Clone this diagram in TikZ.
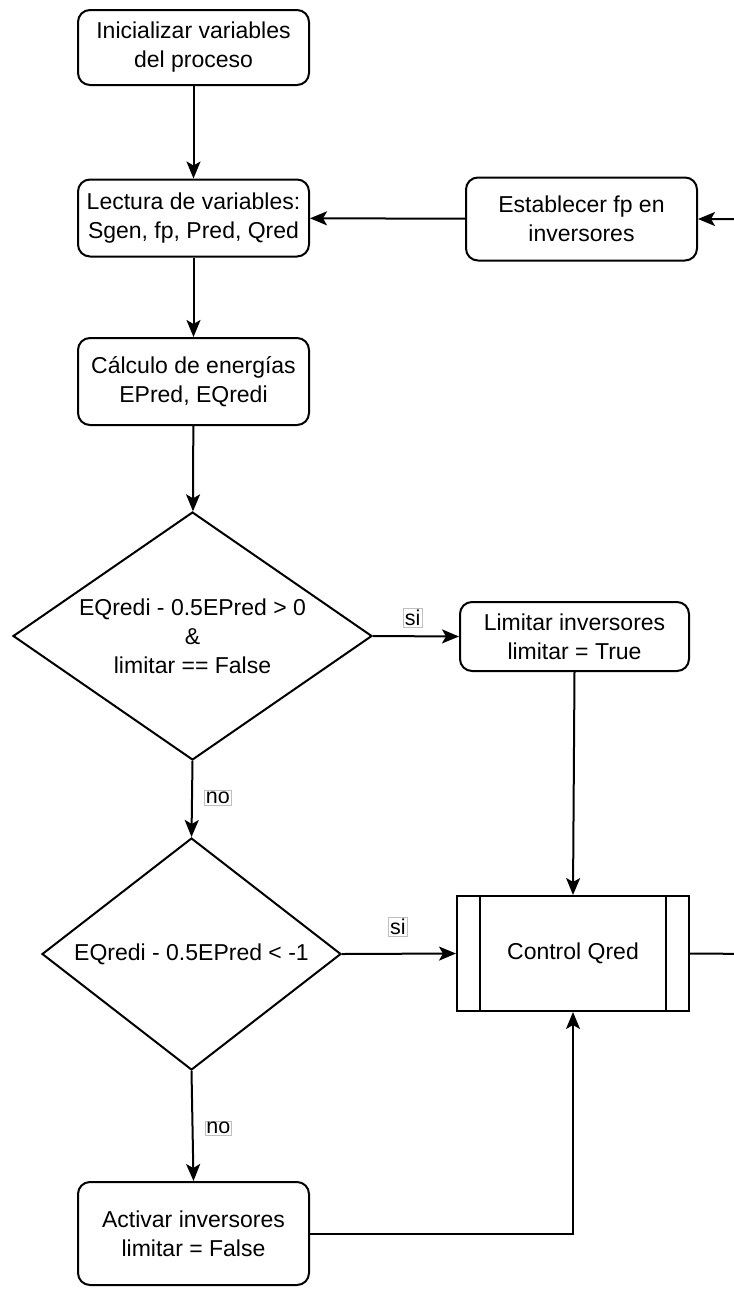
\documentclass[tikz,border=0pt]{standalone}
\usepackage{fontspec}
\setmainfont{Liberation Sans}
\usetikzlibrary{shapes.geometric,arrows.meta}
\begin{document}
\begin{tikzpicture}[x=1pt,y=-1pt,
  every node/.style={font=\fontsize{23}{29}\selectfont, align=center, inner sep=0pt},
  proc/.style={draw, line width=2pt, rounded corners=12pt, fill=white},
  lbl/.style={draw=black!25, line width=0.6pt, fill=white, inner sep=1.5pt, font=\fontsize{21.5}{25}\selectfont},
  conn/.style={line width=2pt, -{Stealth[length=17pt,width=14pt,inset=4pt]}},
  plain/.style={line width=2pt}]
\clip (0,0) rectangle (734,1294);
\fill[white] (0,0) rectangle (734,1294);

\node[proc, minimum width=231pt, minimum height=75pt] (n1) at (193.5,47.5) {Inicializar variables\\del proceso};
\node[proc, minimum width=231pt, minimum height=77pt] (n2) at (193.5,218) {Lectura de variables:\\Sgen, fp, Pred, Qred};
\node[proc, minimum width=231pt, minimum height=83pt] (n3) at (581.5,219) {Establecer fp en\\inversores};
\node[proc, minimum width=231pt, minimum height=87pt] (n4) at (193.5,381.5) {Cálculo de energías\\EPred, EQredi};
\node[draw, line width=2pt, fill=white, shape=diamond, minimum width=359pt, minimum height=248pt, inner sep=0pt] (d1) at (192.5,636) {};
\node at (d1.center) {EQredi - 0.5EPred > 0\\\&\\limitar == False};
\node[proc, minimum width=229pt, minimum height=69pt] (n5) at (574.5,636.5) {Limitar inversores\\limitar = True};
\node[draw, line width=2pt, fill=white, shape=diamond, minimum width=299pt, minimum height=232pt, inner sep=0pt] (d2) at (191.5,954) {};
\node at (d2.center) {EQredi - 0.5EPred < -1};
\node[draw, line width=2pt, fill=white, minimum width=232pt, minimum height=115pt] (c) at (573,953.5) {Control Qred};
\draw[plain] ([xshift=24pt]c.north west) -- ([xshift=24pt]c.south west);
\draw[plain] ([xshift=-24pt]c.north east) -- ([xshift=-24pt]c.south east);
\node[proc, minimum width=231pt, minimum height=103pt] (n6) at (193.5,1233.5) {Activar inversores\\limitar = False};

\coordinate (edge) at (760,954);

\draw[conn] (n1) -- (n2);
\draw[conn] (n2) -- (n4);
\draw[conn] (n4) -- (d1);
\draw[conn] (n3) -- (n2);
\draw[conn] (d1.east) -- node[lbl, pos=0.46, above=9pt] {si} (n5.west);
\draw[conn] (d1.south) -- node[lbl, right=12pt, pos=0.48] {no} (d2.north);
\draw[conn] (n5.south) -- (c.north);
\draw[conn] (d2.east) -- node[lbl, pos=0.49, above=17pt] {si} (c.west);
\draw[conn] (d2.south) -- node[lbl, right=12pt, pos=0.52] {no} (n6.north);
\draw[conn] (n6.east) -| (c.south);
\draw[conn] (c.east) -- (edge) |- (n3.east);
\end{tikzpicture}
\end{document}
